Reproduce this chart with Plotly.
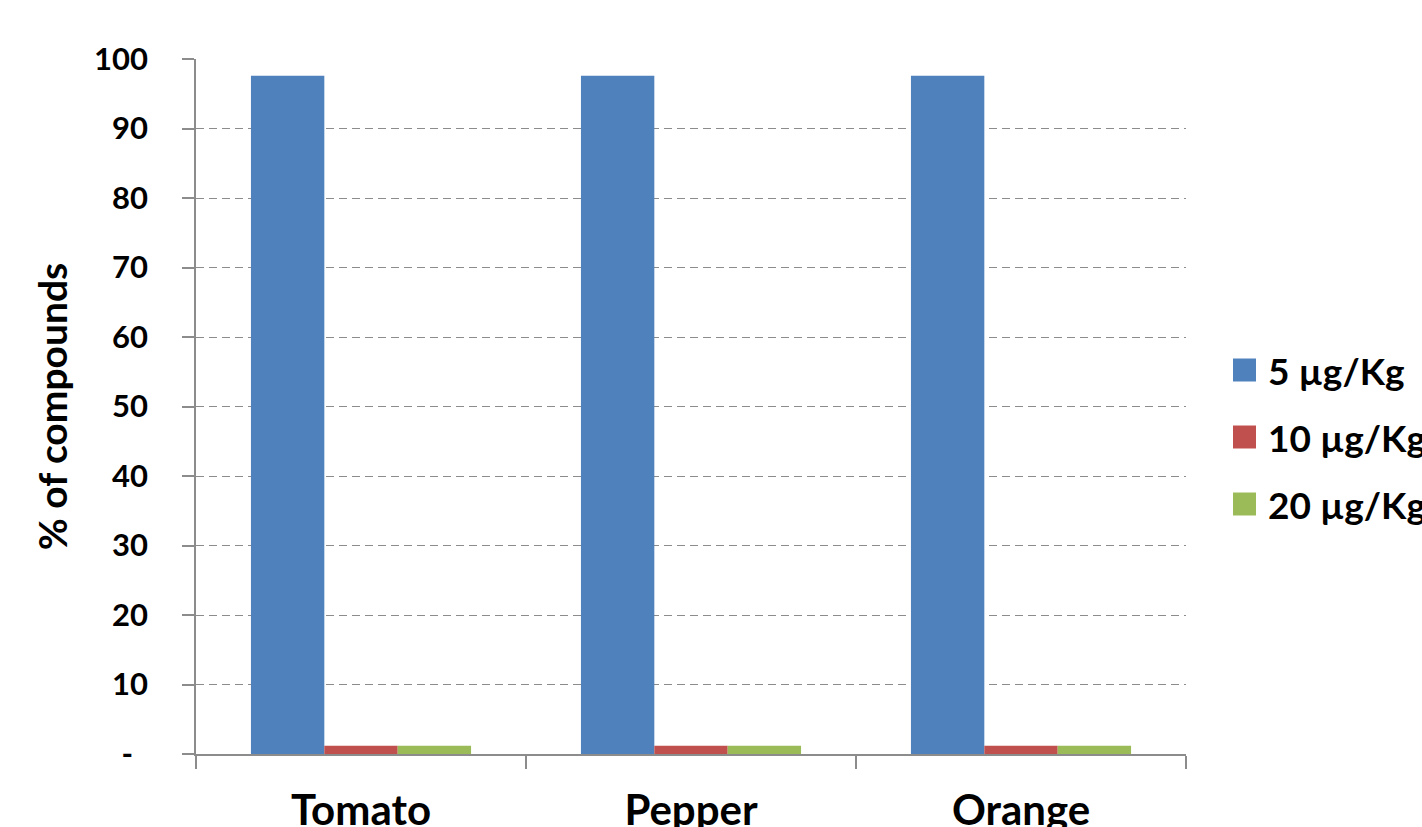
import plotly.graph_objects as go

categories = ["Tomato", "Pepper", "Orange"]
series_names = ["5 µg/Kg", "10 µg/Kg", "20 µg/Kg"]
series_values = [
    [97.6, 97.6, 97.6],
    [1.2, 1.2, 1.2],
    [1.2, 1.2, 1.2],
]
series_colors = ["#4F81BD", "#C0504D", "#9BBB59"]
ytick_vals = [0, 10, 20, 30, 40, 50, 60, 70, 80, 90, 100]
ytick_text = ["-\u00a0\u00a0", "10", "20", "30", "40", "50", "60", "70", "80", "90", "100"]

FONT = "Lato"
fig = go.Figure()
for name, vals, col in zip(series_names, series_values, series_colors):
    fig.add_trace(go.Bar(
        x=categories, y=vals, name=name, showlegend=False,
        marker=dict(color=col, line=dict(width=0)),
    ))

# legend drawn as squares + text in paper coordinates (layout only)
L, R, T, B = 196, 236, 59, 73
PW, PH = 1422 - L - R, 827 - T - B
def px_x(px):
    return (px - L) / PW
def px_y(py):
    return (827 - B - py) / PH

legend_rows_y = [370, 437, 504]
shapes, annotations = [], []
for name, col, yc in zip(series_names, series_colors, legend_rows_y):
    shapes.append(dict(type="rect", xref="paper", yref="paper",
                       x0=px_x(1233), x1=px_x(1256), y0=px_y(yc + 11.5), y1=px_y(yc - 11.5),
                       fillcolor=col, line=dict(width=0)))
    annotations.append(dict(xref="paper", yref="paper", x=px_x(1266), y=px_y(yc),
                            xanchor="left", yanchor="middle", showarrow=False, text=name,
                            font=dict(family=FONT, size=37, color="black", weight="bold")))

grid = "#8C8C8C"
fig.update_layout(
    width=1422, height=827,
    margin=dict(l=L, r=R, t=T, b=B, autoexpand=False),
    paper_bgcolor="white", plot_bgcolor="white",
    barmode="group", bargap=0.333, bargroupgap=0,
    font=dict(family=FONT, size=30, color="black", weight="bold"),
    showlegend=False,
    shapes=shapes, annotations=annotations,
    xaxis=dict(
        type="category", showline=True, linecolor=grid, linewidth=1.5,
        ticks="outside", tickson="boundaries", ticklen=13, tickcolor=grid, tickwidth=1.5,
        showgrid=False, ticklabelstandoff=19,
        tickfont=dict(family=FONT, size=42, color="black", weight="bold"),
    ),
    yaxis=dict(
        range=[0, 100], tickvals=ytick_vals, ticktext=ytick_text,
        showline=True, linecolor=grid, linewidth=1.5,
        ticks="outside", ticklen=12, tickcolor=grid, tickwidth=1.5,
        showgrid=True, gridcolor=grid, gridwidth=1.2, griddash="8px,5px",
        zeroline=False, ticklabelstandoff=28,
        tickfont=dict(family=FONT, size=31, color="black", weight="bold"),
        title=dict(text="% of compounds", standoff=14,
                   font=dict(family=FONT, size=39, color="black", weight="bold")),
    ),
)

fig.write_html("out.html")
